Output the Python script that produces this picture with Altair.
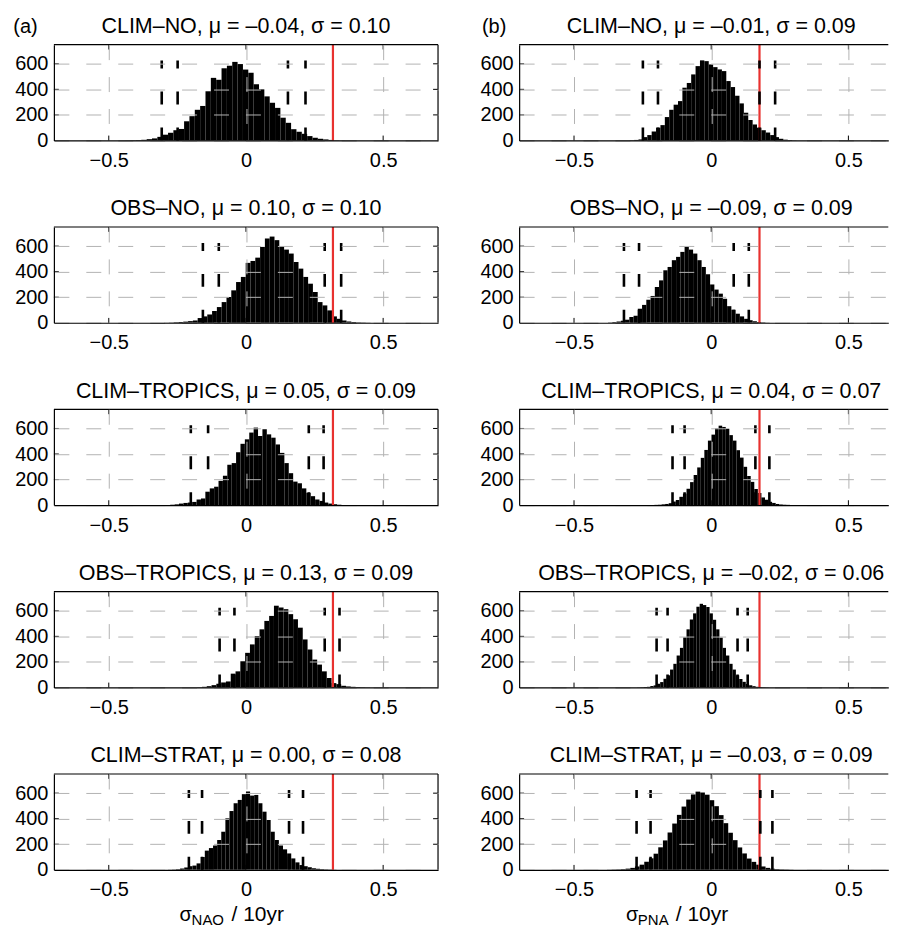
import altair as alt
import pandas as pd

FONT = "Liberation Sans"
RED = "#e8312f"
GRID = "#b3b3b3"

# ---------------- data ----------------
titles_a = ["CLIM–NO, μ = –0.04, σ = 0.10", "OBS–NO, μ = 0.10, σ = 0.10",
            "CLIM–TROPICS, μ = 0.05, σ = 0.09", "OBS–TROPICS, μ = 0.13, σ = 0.09",
            "CLIM–STRAT, μ = 0.00, σ = 0.08"]
titles_b = ["CLIM–NO, μ = –0.01, σ = 0.09", "OBS–NO, μ = –0.09, σ = 0.09",
            "CLIM–TROPICS, μ = 0.04, σ = 0.07", "OBS–TROPICS, μ = –0.02, σ = 0.06",
            "CLIM–STRAT, μ = –0.03, σ = 0.09"]

# first bin left edge and bin width of every histogram
start_a = [-0.44, -0.2985, -0.292, -0.178, -0.285]
width_a = [0.0195, 0.0175, 0.016, 0.0175, 0.015]
start_b = [-0.297, -0.376, -0.22, -0.27, -0.38]
width_b = [0.016, 0.0155, 0.013, 0.012, 0.017]

counts_a1 = [1, 2, 3, 5, 10, 16, 28, 45, 60, 80, 90, 150, 190, 240, 270, 385, 490, 475, 565, 585, 615,
             598, 555, 530, 440, 400, 345, 295, 255, 178, 138, 88, 68, 52, 34, 21, 13, 8, 4, 2, 1]
counts_a2 = [1, 2, 4, 6, 9, 13, 18, 37, 50, 65, 92, 123, 162, 202, 254, 319, 359, 469, 484, 510, 594, 660,
             675, 647, 600, 573, 542, 476, 424, 359, 306, 241, 162, 136, 97, 50, 31, 18, 10, 6, 3, 2, 1]
counts_a3 = [1, 3, 6, 12, 17, 20, 25, 44, 52, 105, 131, 144, 190, 230, 316, 329, 414, 480, 515, 568, 607,
             541, 594, 554, 528, 475, 409, 329, 250, 184, 171, 131, 97, 70, 44, 33, 20, 12, 7, 3, 1]
counts_a4 = [2, 5, 10, 18, 29, 39, 47, 108, 126, 205, 271, 337, 403, 455, 521, 560, 640, 626, 613, 574,
             534, 468, 376, 297, 218, 179, 126, 74, 34, 26, 13, 8, 5, 3, 2, 1]
counts_a5 = [1, 2, 4, 10, 18, 28, 33, 50, 100, 150, 170, 190, 233, 298, 403, 460, 521, 547, 592, 613, 581,
             586, 521, 455, 390, 298, 233, 190, 160, 128, 89, 58, 37, 28, 20, 12, 8, 5, 3, 2, 1]
counts_b1 = [2, 4, 8, 26, 42, 70, 100, 120, 183, 240, 280, 308, 413, 450, 517, 582, 627, 621, 595, 574,
             556, 543, 465, 418, 350, 290, 217, 160, 125, 100, 80, 62, 42, 26, 13, 6, 3, 1]
counts_b2 = [2, 5, 10, 16, 24, 45, 55, 110, 140, 181, 210, 280, 332, 411, 437, 490, 516, 555, 594, 573,
             542, 490, 437, 380, 300, 260, 228, 188, 130, 102, 71, 50, 31, 20, 12, 6, 3, 1]
counts_b3 = [1, 2, 3, 6, 9, 15, 28, 40, 65, 90, 128, 180, 236, 295, 370, 432, 505, 552, 600, 622, 612,
             598, 548, 505, 430, 372, 300, 228, 182, 126, 95, 60, 42, 26, 17, 9, 5, 3, 2, 1]
counts_b4 = [1, 2, 3, 5, 11, 16, 29, 42, 68, 95, 140, 185, 250, 310, 392, 455, 532, 580, 632, 655, 645,
             630, 580, 530, 455, 390, 310, 250, 185, 140, 95, 66, 44, 27, 17, 10, 5, 3, 2, 1]
counts_b5 = [1, 2, 3, 5, 9, 15, 26, 40, 62, 90, 126, 176, 230, 292, 362, 430, 495, 550, 590, 612, 605,
             588, 545, 498, 428, 365, 290, 232, 175, 128, 88, 62, 40, 26, 15, 9, 5, 3, 2, 1]

pct_a = [[-0.307, -0.249, 0.153, 0.217], [-0.157, -0.099, 0.287, 0.347],
         [-0.201, -0.138, 0.229, 0.283], [-0.096, -0.042, 0.287, 0.341],
         [-0.208, -0.160, 0.157, 0.208]]
pct_b = [[-0.249, -0.194, 0.176, 0.233], [-0.318, -0.263, 0.082, 0.137],
         [-0.141, -0.097, 0.161, 0.212], [-0.199, -0.159, 0.096, 0.133],
         [-0.272, -0.221, 0.179, 0.223]]
obs_nao = 0.317
obs_pna = 0.176
x_ticks = [-0.5, 0, 0.5]
y_ticks = [0, 200, 400, 600]

counts_a = [counts_a1, counts_a2, counts_a3, counts_a4, counts_a5]
counts_b = [counts_b1, counts_b2, counts_b3, counts_b4, counts_b5]

# ---------------- layout ----------------
W_A, W_B, H = 385, 370, 96
XMIN, XMAX_A = -0.7, 0.7
XMAX_B = XMIN + W_B * (XMAX_A - XMIN) / W_A   # same px per unit, right panels cut at the page edge
YMAX = 750
TICK_X = 0.018   # inner tick length in x units (~5 px)
TICK_Y = 38      # inner tick length in y units (~5 px)
one = pd.DataFrame({"k": [0]})


def text_layer(txt, x, y, size, align="left"):
    return alt.Chart(one).mark_text(
        text=txt, align=align, baseline="alphabetic", fontSize=size, font=FONT, color="black"
    ).encode(x=alt.value(x), y=alt.value(y))


def panel(title, start, width, counts, pcts, obs, xmax, W, letter, xlabel):
    x0 = [start + i * width for i in range(len(counts))]
    df = pd.DataFrame({"x0": x0, "x1": [v + width for v in x0], "n": counts})
    xs = alt.Scale(domain=[XMIN, xmax], nice=False, zero=False)
    ys = alt.Scale(domain=[0, YMAX], nice=False)
    common = dict(title=None, ticks=False, grid=True, gridDash=[15, 17], gridColor=GRID, gridWidth=1,
                  domain=True, domainColor="black", domainWidth=1.2, labelFont=FONT, labelFontSize=20,
                  labelColor="black", zindex=1, labelFlush=False)
    xax = alt.Axis(values=x_ticks, labelExpr="datum.value == 0 ? '0' : format(datum.value, '.1f')",
                   labelPadding=10, **common)
    yax = alt.Axis(values=y_ticks, labelPadding=6, **common)
    X = lambda f: alt.X(f, scale=xs, axis=xax)
    Y = lambda f: alt.Y(f, scale=ys, axis=yax)

    bars = alt.Chart(df).mark_rect(color="black").encode(
        x=X("x0:Q"), x2="x1:Q", y=Y("n:Q"), y2=alt.Y2Datum(0))
    red = alt.Chart(pd.DataFrame({"obs": [obs]})).mark_rule(color=RED, strokeWidth=2.2).encode(
        x=X("obs:Q"))
    dash = alt.Chart(pd.DataFrame({"p": pcts})).mark_rule(
        color="black", strokeWidth=2.6, strokeDash=[13, 23]).encode(
        x=X("p:Q"), y=alt.YDatum(0, scale=ys, axis=yax), y2=alt.Y2Datum(625))
    top = alt.Chart(one).mark_rule(color="black", strokeWidth=1.2).encode(
        y=alt.YDatum(YMAX, scale=ys, axis=yax))
    # small inner ticks (MATLAB style)
    xt = pd.DataFrame({"t": x_ticks})
    xtick_b = alt.Chart(xt).mark_rule(color="black", strokeWidth=1).encode(
        x=X("t:Q"), y=alt.YDatum(0, scale=ys, axis=yax), y2=alt.Y2Datum(TICK_Y))
    xtick_t = alt.Chart(xt).mark_rule(color="black", strokeWidth=1).encode(
        x=X("t:Q"), y=alt.YDatum(YMAX - TICK_Y, scale=ys, axis=yax), y2=alt.Y2Datum(YMAX))
    yt = pd.DataFrame({"t": y_ticks[1:]})
    ytick_l = alt.Chart(yt).mark_rule(color="black", strokeWidth=1).encode(
        y=Y("t:Q"), x=alt.XDatum(XMIN, scale=xs, axis=xax), x2=alt.X2Datum(XMIN + TICK_X))
    layers = [bars, red, dash, top, xtick_b, xtick_t, ytick_l]
    if xmax >= XMAX_A:
        layers.append(alt.Chart(one).mark_rule(color="black", strokeWidth=1.2).encode(
            x=alt.XDatum(XMAX_A, scale=xs, axis=xax)))
        layers.append(alt.Chart(yt).mark_rule(color="black", strokeWidth=1).encode(
            y=Y("t:Q"), x=alt.XDatum(XMAX_A - TICK_X, scale=xs, axis=xax), x2=alt.X2Datum(XMAX_A)))
    layers.append(text_layer(title, 192.5, -11.6, 21.5, "center"))
    if letter:
        layers.append(text_layer(letter[0], letter[1], -11.6, 20))
    if xlabel:
        (sym, sx), (sub, bx), (rest, rx) = xlabel
        layers.append(text_layer(sym, sx, H + 51, 20))
        layers.append(text_layer(sub, bx, H + 55, 15))
        layers.append(text_layer(rest, rx, H + 51, 21))
    return alt.layer(*layers).properties(width=W, height=H)


panels = []
for i in range(5):
    la = ("(a)", -40.7) if i == 0 else None
    lb = ("(b)", -37.3) if i == 0 else None
    xa = [("σ", 126), ("NAO", 138), ("/ 10yr", 178)] if i == 4 else None
    xb = [("σ", 107), ("PNA", 119), ("/ 10yr", 157)] if i == 4 else None
    panels.append(panel(titles_a[i], start_a[i], width_a[i], counts_a[i], pct_a[i], obs_nao,
                        XMAX_A, W_A, la, xa))
    panels.append(panel(titles_b[i], start_b[i], width_b[i], counts_b[i], pct_b[i], obs_pna,
                        XMAX_B, W_B, lb, xb))

chart = alt.concat(*panels, columns=2, spacing={"row": 86.75, "column": 81.3}, bounds="flush").properties(
    padding={"left": 4, "top": 5.7, "right": 0, "bottom": -1}
).configure_view(stroke="transparent")

chart.save("out.html", embed_options={"renderer": "svg", "actions": False})
